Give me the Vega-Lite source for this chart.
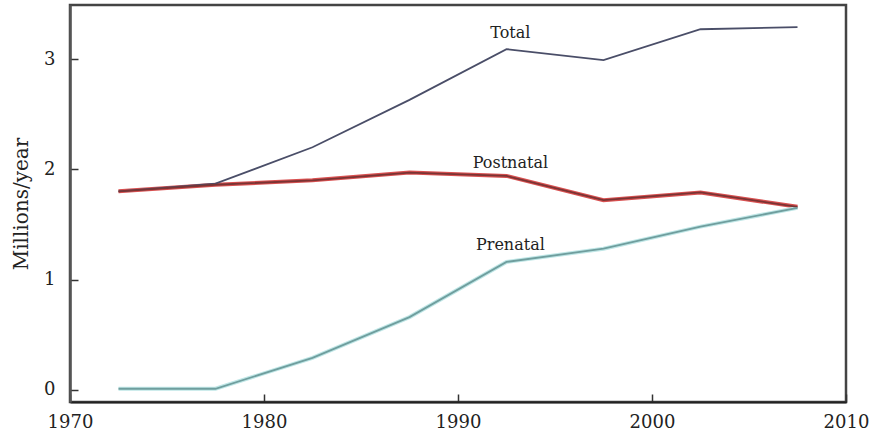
{
  "$schema": "https://vega.github.io/schema/vega-lite/v6.json",
  "width": 776,
  "height": 397,
  "autosize": {"type": "none"},
  "padding": {"left": 70, "top": 5, "right": 24, "bottom": 37},
  "background": "white",
  "config": {
    "view": {"stroke": "#444", "strokeWidth": 2.5},
    "font": "DejaVu Serif"
  },
  "datasets": {
    "series": [
      {"year": 1972.5, "series": "Total", "value": 1.8},
      {"year": 1977.5, "series": "Total", "value": 1.87},
      {"year": 1982.5, "series": "Total", "value": 2.2},
      {"year": 1987.5, "series": "Total", "value": 2.63},
      {"year": 1992.5, "series": "Total", "value": 3.09},
      {"year": 1997.5, "series": "Total", "value": 2.99},
      {"year": 2002.5, "series": "Total", "value": 3.27},
      {"year": 2007.5, "series": "Total", "value": 3.29},
      {"year": 1972.5, "series": "Postnatal", "value": 1.8},
      {"year": 1977.5, "series": "Postnatal", "value": 1.86},
      {"year": 1982.5, "series": "Postnatal", "value": 1.9},
      {"year": 1987.5, "series": "Postnatal", "value": 1.97},
      {"year": 1992.5, "series": "Postnatal", "value": 1.94},
      {"year": 1997.5, "series": "Postnatal", "value": 1.72},
      {"year": 2002.5, "series": "Postnatal", "value": 1.79},
      {"year": 2007.5, "series": "Postnatal", "value": 1.66},
      {"year": 1972.5, "series": "Prenatal", "value": 0.01},
      {"year": 1977.5, "series": "Prenatal", "value": 0.01},
      {"year": 1982.5, "series": "Prenatal", "value": 0.29},
      {"year": 1987.5, "series": "Prenatal", "value": 0.66},
      {"year": 1992.5, "series": "Prenatal", "value": 1.16},
      {"year": 1997.5, "series": "Prenatal", "value": 1.28},
      {"year": 2002.5, "series": "Prenatal", "value": 1.48},
      {"year": 2007.5, "series": "Prenatal", "value": 1.65}
    ],
    "labels": [
      {"year": 1992.7, "value": 3.24, "label": "Total"},
      {"year": 1992.7, "value": 2.06, "label": "Postnatal"},
      {"year": 1992.7, "value": 1.31, "label": "Prenatal"}
    ]
  },
  "layer": [
    {
      "data": {"name": "series"},
      "transform": [{"filter": "datum.series !== 'Total'"}],
      "mark": {"type": "line", "strokeWidth": 4},
      "encoding": {
        "x": {"field": "year", "type": "quantitative", "scale": {"domain": [1970, 2010], "nice": false},
          "axis": {"values": [1970, 1980, 1990, 2000, 2010], "format": "d", "title": null, "grid": false,
            "domainColor": "#222", "domainWidth": 2, "tickColor": "#333", "tickSize": -8, "tickWidth": 1.5,
            "labelFontSize": 18, "labelColor": "#222", "labelPadding": 19, "labelFont": "DejaVu Serif", "labelFlush": false}},
        "y": {"field": "value", "type": "quantitative", "scale": {"domain": [-0.11, 3.49], "nice": false, "zero": false},
          "axis": {"values": [0, 1, 2, 3], "format": "d", "title": "Millions/year", "grid": false,
            "domainColor": "#555", "domainWidth": 2.5, "tickColor": "#333", "tickSize": -8, "tickWidth": 1.5,
            "labelFontSize": 18, "labelColor": "#222", "labelPadding": 23, "labelFont": "DejaVu Serif",
            "titleFont": "DejaVu Serif", "titleFontSize": 20, "titleFontWeight": "normal", "titleColor": "#222", "titlePadding": 12}},
        "color": {"field": "series", "type": "nominal", "legend": null,
          "scale": {"domain": ["Postnatal", "Prenatal"], "range": ["#d85050", "#bfe6e6"]}},
        "detail": {"field": "series"}
      }
    },
    {
      "data": {"name": "series"},
      "mark": {"type": "line", "strokeWidth": 1.8},
      "encoding": {
        "x": {"field": "year", "type": "quantitative"},
        "y": {"field": "value", "type": "quantitative"},
        "stroke": {"field": "series", "type": "nominal", "legend": null,
          "scale": {"domain": ["Total", "Postnatal", "Prenatal"], "range": ["#4a4e68", "#7a3434", "#6f9e9e"]}}
      }
    },
    {
      "data": {"name": "labels"},
      "mark": {"type": "text", "font": "DejaVu Serif", "fontSize": 16, "color": "#222"},
      "encoding": {
        "x": {"field": "year", "type": "quantitative"},
        "y": {"field": "value", "type": "quantitative"},
        "text": {"field": "label"}
      }
    }
  ]
}
